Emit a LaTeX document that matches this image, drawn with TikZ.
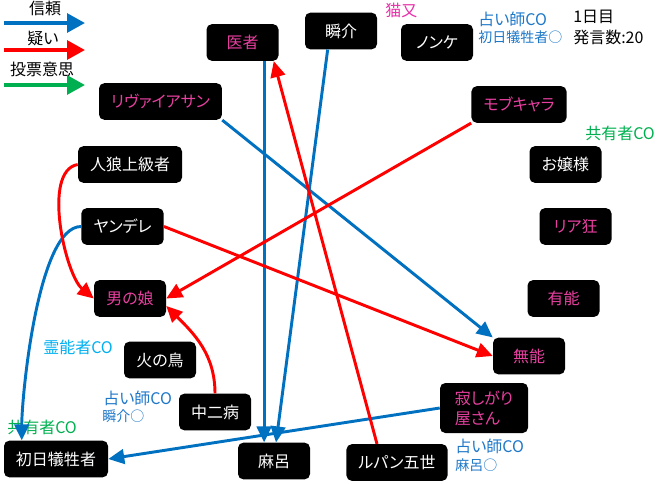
\documentclass[tikz,border=0pt]{standalone}
\usepackage{fontspec}
\setmainfont{Noto Sans CJK JP}[RawFeature=+palt]
\usetikzlibrary{arrows.meta}
\definecolor{trustblue}{RGB}{0,112,192}
\definecolor{doubtred}{RGB}{255,0,0}
\definecolor{votegreen}{RGB}{0,176,80}
\definecolor{rolepink}{RGB}{232,64,160}
\definecolor{seerblue}{RGB}{30,120,200}
\definecolor{mediumblue}{RGB}{0,176,240}
\definecolor{catpink}{RGB}{230,50,170}
\begin{document}
\begin{tikzpicture}[x=0.75pt,y=-0.75pt,
  chara/.style={fill=black,text=white,rounded corners=4pt,minimum width=54pt,minimum height=27.5pt,inner xsep=9pt,font=\fontsize{12}{15}\selectfont},
  suspect/.style={chara,text=rolepink},
  trust/.style={-{Triangle[length=12pt,width=11pt]},line width=2.2pt,trustblue},
  doubt/.style={trust,doubtred},
  key/.style={-{Triangle[length=13.5pt,width=14pt]},line width=3pt},
  big/.style={font=\fontsize{12}{14}\selectfont,inner sep=0pt,anchor=west},
  small/.style={font=\fontsize{10.5}{12}\selectfont,inner sep=0pt,anchor=west}]
\useasboundingbox (0,0) rectangle (660,483);
\node[big,anchor=center] (lgtrust) at (45,8) {信頼};
\node[big,anchor=center] (lgdoubt) at (43,38) {疑い};
\node[big,anchor=center] (lgvote) at (42,69) {投票意思};
\coordinate (trustA) at (4,23);  \coordinate (trustB) at (85,23);
\coordinate (doubtA) at (4,50);  \coordinate (doubtB) at (85,50);
\coordinate (voteA) at (4,85);   \coordinate (voteB) at (85,85);
\draw[key,trustblue] (trustA) -- (trustB);
\draw[key,doubtred] (doubtA) -- (doubtB);
\draw[key,votegreen] (voteA) -- (voteB);
\node[suspect] (ishi) at (242.5,42.5) {医者};
\node[chara] (shunsuke) at (341,31) {瞬介};
\node[chara] (nonke) at (437,42.5) {ノンケ};
\node[suspect] (riva) at (160.5,101.5) {リヴァイアサン};
\node[suspect] (mob) at (519,104.5) {モブキャラ};
\node[chara] (jinro) at (130,164.5) {人狼上級者};
\node[chara] (ojo) at (565.5,164.5) {お嬢様};
\node[chara] (yandere) at (122.5,226.5) {ヤンデレ};
\node[suspect] (riakyo) at (575.5,226.5) {リア狂};
\node[suspect] (otoko) at (130,298.5) {男の娘};
\node[suspect] (yuno) at (563.5,298.5) {有能};
\node[suspect] (muno) at (529,356) {無能};
\node[chara] (hinotori) at (160,360) {火の鳥};
\node[chara] (chuni) at (215,412) {中二病};
\node[suspect,align=left,minimum width=66pt,minimum height=37.5pt] (sabishi) at (484,408) {寂しがり\\屋さん};
\node[chara] (shonichi) at (56,459) {初日犠牲者};
\node[chara] (maro) at (274,461) {麻呂};
\node[chara] (lupin) at (397,462.5) {ルパン五世};
\node[big,catpink] (nekomata) at (385,10) {猫又};
\node[big,seerblue] (nonkeco) at (478,19) {占い師CO};
\node[small,seerblue] (nonkeres) at (478,37) {初日犠牲者○};
\node[big] (day) at (573,17) {1日目};
\node[big] (count) at (573,37) {発言数:20};
\node[big,votegreen] (ojoco) at (585,133) {共有者CO};
\node[big,mediumblue] (hinoco) at (43,347) {霊能者CO};
\node[big,seerblue] (chunico) at (103,398) {占い師CO};
\node[small,seerblue] (chunires) at (102,416) {瞬介○};
\node[big,votegreen] (shonichico) at (7,427) {共有者CO};
\node[big,seerblue] (sabishico) at (455,446) {占い師CO};
\node[small,seerblue] (sabishires) at (455,465) {麻呂○};
\draw[trust] ([xshift=-11pt]ishi.south east) -- ([xshift=-11pt]ishi.south east |- maro.north);
\draw[trust] ([xshift=-10pt]shunsuke.south) -- ([xshift=1.5pt]maro.north);
\draw[trust] (riva.south east) -- (muno.north west);
\draw[trust] (yandere.west) to[out=180,in=90,looseness=0.5] ([xshift=13.5pt]shonichi.north west);
\draw[trust] (sabishi.west) -- (shonichi.east);
\draw[doubt] (jinro.west) to[out=190,in=140,looseness=0.7] (otoko.west);
\draw[doubt] (yandere.east) -- (muno.west);
\draw[doubt] (mob.south west) -- (otoko.east);
\draw[doubt] ([xshift=-15pt]lupin.north) -- ([xshift=-3.75pt]ishi.south east);
\draw[doubt] (chuni.north) to[out=90,in=-45] ([yshift=-5.6pt]otoko.east);
\end{tikzpicture}
\end{document}
